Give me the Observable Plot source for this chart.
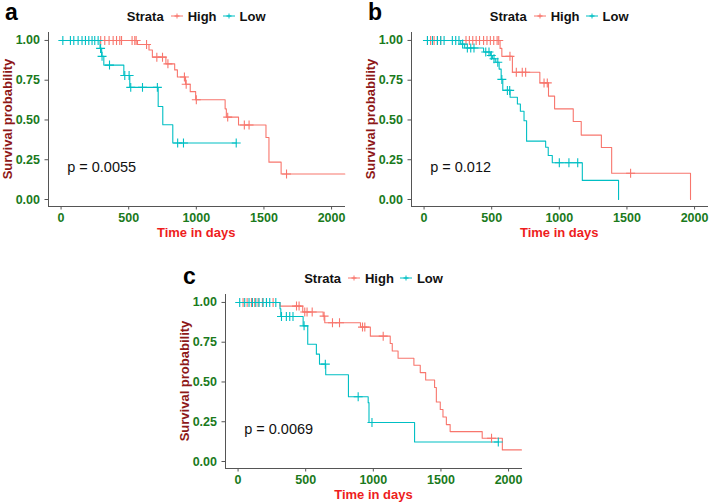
<!DOCTYPE html>
<html><head><meta charset="utf-8">
<script src="https://cdn.jsdelivr.net/npm/d3@7"></script>
<script src="https://cdn.jsdelivr.net/npm/@observablehq/plot@0.6"></script>
<style>
body{margin:0;background:#fff;font-family:"Liberation Sans",Arial,sans-serif;}
#root{position:relative;width:709px;height:504px;overflow:hidden;background:#fff;}
.abs{position:absolute;}
.letter{font-weight:bold;font-size:23px;line-height:24px;height:24px;color:#000;}
.legend{display:flex;justify-content:center;align-items:center;font-weight:bold;font-size:13px;color:#111;height:20px;white-space:nowrap;}
.legend svg{display:block;}
.xtitle{font-weight:bold;font-size:13px;line-height:16px;height:16px;text-align:center;white-space:nowrap;}
.ytitle{font-weight:bold;font-size:13px;line-height:16px;height:16px;width:200px;text-align:center;white-space:nowrap;transform:rotate(-90deg);transform-origin:50% 50%;}
.plotsvg text{font-family:"Liberation Sans",Arial,sans-serif;}
g[aria-label="x-axis tick label"] text, g[aria-label="y-axis tick label"] text{font-weight:bold;}
</style>
</head><body><div id="root"></div>
<script>
// ---------- data ----------
const strata = ["High", "Low"];
const strataColors = ["#F8766D", "#00BFC4"];
const xTicks = [0, 500, 1000, 1500, 2000];
const yTicks = [0, 0.25, 0.5, 0.75, 1];
const panelLetters = ["a", "b", "c"];
const pValues = ["p = 0.0055", "p = 0.012", "p = 0.0069"];
const xTitle = "Time in days";
const yTitle = "Survival probability";
const legendTitle = "Strata";

// panel a
const aHighTime = [0, 565, 650, 675, 775, 840, 860, 920, 955, 995, 1213, 1222, 1312, 1515, 1537, 1627, 2098];
const aHighSurv = [1, 0.975, 0.94, 0.895, 0.853, 0.815, 0.77, 0.725, 0.678, 0.627, 0.57, 0.518, 0.468, 0.39, 0.235, 0.16, 0.16];
const aHighCens = [293, 323, 355, 385, 410, 434, 447, 525, 545, 555, 632, 708, 750, 790, 912, 925, 1000, 1232, 1355, 1390, 1667];
const aLowTime = [0, 288, 300, 316, 464, 508, 718, 752, 826, 1295];
const aLowSurv = [1, 0.95, 0.90, 0.845, 0.78, 0.705, 0.585, 0.47, 0.355, 0.355];
const aLowCens = [13, 69, 94, 126, 155, 180, 205, 229, 249, 274, 292, 303, 358, 471, 503, 515, 602, 712, 862, 905, 1295];

// panel b
const bHighTime = [0, 562, 575, 653, 856, 920, 965, 1103, 1162, 1311, 1387, 1970];
const bHighSurv = [1, 0.95, 0.90, 0.80, 0.733, 0.65, 0.57, 0.49, 0.405, 0.327, 0.165, 0];
const bHighCens = [25, 48, 74, 98, 123, 310, 335, 360, 385, 410, 440, 465, 490, 515, 540, 552, 635, 682, 726, 751, 887, 911, 1527];
const bLowTime = [0, 271, 300, 440, 490, 505, 530, 555, 570, 582, 636, 690, 712, 739, 758, 899, 918, 948, 1170, 1438];
const bLowSurv = [1, 0.977, 0.953, 0.927, 0.905, 0.885, 0.863, 0.82, 0.755, 0.686, 0.643, 0.60, 0.555, 0.495, 0.367, 0.329, 0.277, 0.231, 0.12, 0];
const bLowCens = [25, 62, 99, 123, 148, 209, 234, 258, 285, 320, 345, 369, 456, 480, 497, 517, 545, 575, 616, 633, 1000, 1071, 1136];

// panel c
const cHighTime = [0, 310, 478, 629, 641, 905, 978, 1125, 1140, 1183, 1300, 1347, 1387, 1453, 1466, 1495, 1515, 1540, 1568, 1805, 1954, 2095];
const cHighSurv = [1, 0.977, 0.94, 0.914, 0.872, 0.845, 0.788, 0.742, 0.695, 0.649, 0.605, 0.559, 0.512, 0.465, 0.374, 0.327, 0.28, 0.232, 0.188, 0.146, 0.073, 0.073];
const cHighCens = [37, 67, 99, 123, 148, 180, 210, 259, 432, 451, 493, 510, 548, 636, 698, 750, 920, 937, 1073, 1874];
const cLowTime = [0, 310, 316, 481, 515, 579, 602, 648, 816, 962, 968, 1305, 1924];
const cLowSurv = [1, 0.96, 0.912, 0.853, 0.737, 0.675, 0.612, 0.545, 0.407, 0.37, 0.245, 0.123, 0.123];
const cLowCens = [12, 49, 81, 106, 131, 155, 185, 210, 234, 279, 321, 357, 382, 406, 488, 645, 888, 990, 1924];

// ---------- layout ----------
const X_DOMAIN = [-93, 2103];
const Y_DOMAIN = [-0.044, 1.05];
const tickGreen = "#1a7a1c";
const xTitleRed = "#ee1d1d";
const yTitleRed = "#8e1818";
const axisGray = "#555";

const panels = [
  {letter: panelLetters[0], p: pValues[0], plotLeft: 47.7, plotTop: 32, letterLeft: 5, letterTop: 0,
   series: [[aHighTime, aHighSurv, aHighCens], [aLowTime, aLowSurv, aLowCens]]},
  {letter: panelLetters[1], p: pValues[1], plotLeft: 410.7, plotTop: 32, letterLeft: 368, letterTop: 0,
   series: [[bHighTime, bHighSurv, bHighCens], [bLowTime, bLowSurv, bLowCens]]},
  {letter: panelLetters[2], p: pValues[2], plotLeft: 225, plotTop: 294, letterLeft: 183, letterTop: 263.5,
   series: [[cHighTime, cHighSurv, cHighCens], [cLowTime, cLowSurv, cLowCens]]}
];

const root = document.getElementById("root");
const PW = 297, PH = 174, ML = 48, MT = 8, MB = 30, MR = 12;

function survAt(times, survs, t) {
  let s = survs[0];
  for (let i = 0; i < times.length; i++) if (times[i] <= t) s = survs[i];
  return s;
}

function keySvg(color) {
  const ns = "http://www.w3.org/2000/svg";
  const svg = document.createElementNS(ns, "svg");
  svg.setAttribute("width", 12); svg.setAttribute("height", 12);
  svg.innerHTML = `<line x1="0" y1="6" x2="12" y2="6" stroke="${color}" stroke-width="1"/>` +
    `<line x1="6" y1="3.5" x2="6" y2="8.5" stroke="${color}" stroke-width="1"/>` +
    `<line x1="3.5" y1="6" x2="8.5" y2="6" stroke="${color}" stroke-width="1.2"/>`;
  return svg;
}

function addDiv(cls, text, left, top, extra) {
  const d = document.createElement("div");
  d.className = "abs " + cls;
  d.style.left = left + "px"; d.style.top = top + "px";
  if (extra) Object.assign(d.style, extra);
  d.textContent = text;
  root.appendChild(d);
  return d;
}

for (const pnl of panels) {
  // data
  const lineData = [], censData = [];
  pnl.series.forEach(([times, survs, cens], i) => {
    times.forEach((t, j) => lineData.push({strata: strata[i], t, s: survs[j]}));
    cens.forEach(t => censData.push({strata: strata[i], t, s: survAt(times, survs, t)}));
  });

  const chart = Plot.plot({
    width: ML + PW + MR, height: MT + PH + MB,
    marginLeft: ML, marginRight: MR, marginTop: MT, marginBottom: MB,
    style: {background: "transparent", overflow: "visible", fontFamily: "Liberation Sans, Arial, sans-serif"},
    x: {domain: X_DOMAIN},
    y: {domain: Y_DOMAIN},
    color: {domain: strata, range: strataColors},
    marks: [
      Plot.axisX({ticks: xTicks, tickSize: 3.5, tickPadding: 3.5, stroke: axisGray, fill: tickGreen, fontSize: 12.5, fontWeight: "bold", tickFormat: d3.format("d"), label: null}),
      Plot.axisY({ticks: yTicks, tickSize: 3.5, tickPadding: 5, stroke: axisGray, fill: tickGreen, fontSize: 12.5, fontWeight: "bold", tickFormat: d3.format(".2f"), label: null}),
      Plot.ruleY([Y_DOMAIN[0]], {stroke: axisGray, strokeWidth: 1}),
      Plot.ruleX([X_DOMAIN[0]], {stroke: axisGray, strokeWidth: 1}),
      Plot.line(lineData, {x: "t", y: "s", z: "strata", stroke: "strata", curve: "step-after", strokeWidth: 1.1}),
      Plot.dot(censData, {x: "t", y: "s", stroke: "strata", symbol: "plus", r: 3, strokeWidth: 1.1}),
      Plot.text([pnl.p], {x: 45, y: 0.2, text: d => d, textAnchor: "start", fontSize: 14.5, fill: "#111"})
    ]
  });
  chart.classList.add("plotsvg");
  chart.style.position = "absolute";
  chart.style.left = (pnl.plotLeft - ML) + "px";
  chart.style.top = (pnl.plotTop - MT) + "px";
  root.appendChild(chart);

  // letter
  addDiv("letter", pnl.letter, pnl.letterLeft, pnl.letterTop);

  // axis titles
  addDiv("xtitle", xTitle, pnl.plotLeft, pnl.plotTop + PH + 27 - 8, {width: PW + "px", color: xTitleRed});
  addDiv("ytitle", yTitle, pnl.plotLeft - 40 - 100, pnl.plotTop + PH / 2 - 8, {color: yTitleRed});

  // legend
  const lg = document.createElement("div");
  lg.className = "abs legend";
  lg.style.left = pnl.plotLeft + "px"; lg.style.top = (pnl.plotTop - 26) + "px"; lg.style.width = PW + "px";
  const t0 = document.createElement("span"); t0.textContent = legendTitle; t0.style.marginRight = "7px";
  lg.appendChild(t0);
  strata.forEach((s, i) => {
    const k = keySvg(strataColors[i]); k.style.marginRight = "5px";
    lg.appendChild(k);
    const sp = document.createElement("span"); sp.textContent = s;
    if (i < strata.length - 1) sp.style.marginRight = "6px";
    lg.appendChild(sp);
  });
  root.appendChild(lg);
}
</script>
</body></html>
